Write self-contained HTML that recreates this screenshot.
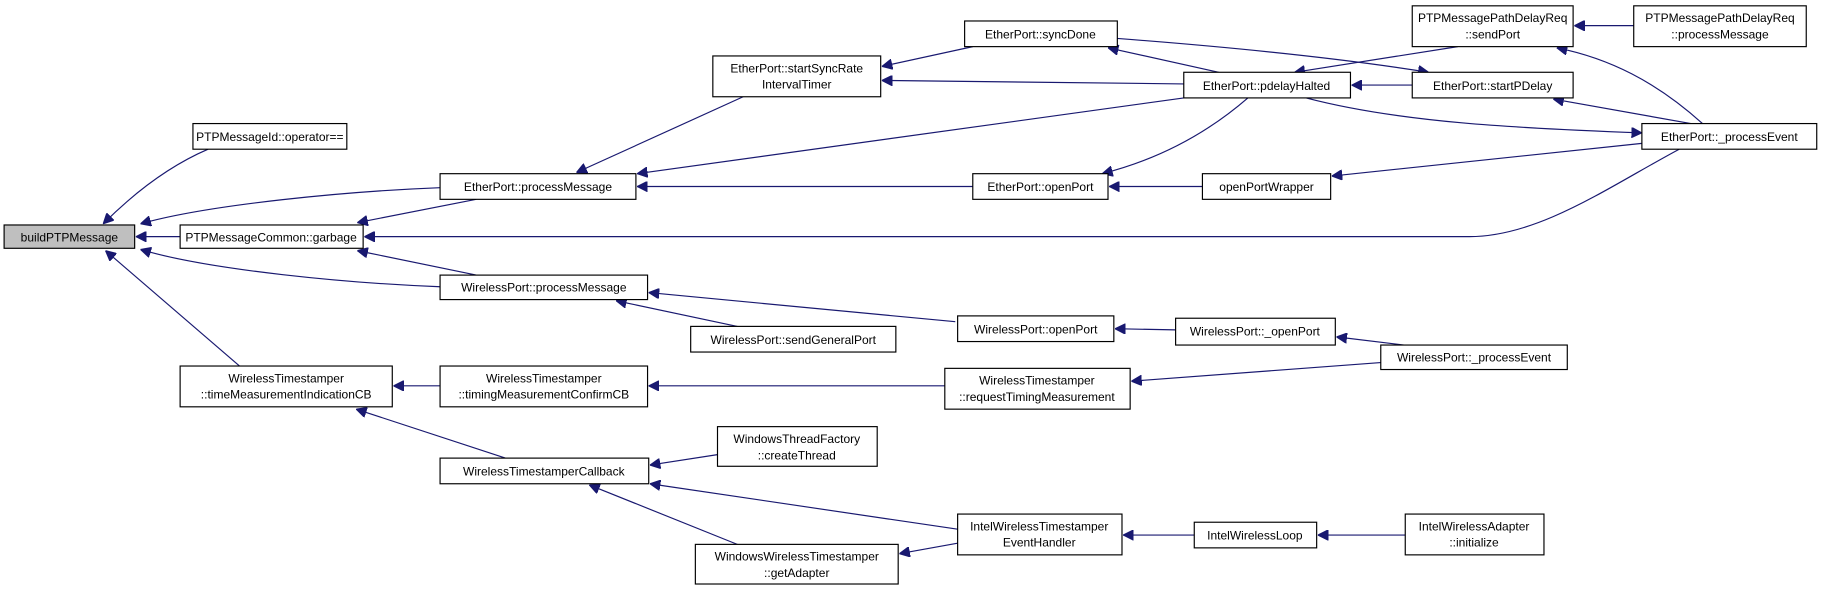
<!DOCTYPE html>
<html><head><meta charset="utf-8"><style>
html,body{margin:0;padding:0;background:#fff;}
svg{display:block;}
text{font-family:"Liberation Sans",Arial,sans-serif;font-size:10.3px;fill:#000;text-anchor:middle;}
rect{fill:#fff;stroke:#000;stroke-width:1;}
.e{fill:none;stroke:#191970;stroke-width:1;}
</style></head><body>
<svg width="1829" height="591" viewBox="0 0 1568 507" xmlns="http://www.w3.org/2000/svg">
<defs><marker id="a" viewBox="0 0 10 10" refX="10" refY="5" markerWidth="9" markerHeight="9" orient="auto" markerUnits="userSpaceOnUse"><path d="M0,0 L10,5 L0,10 z" fill="#191970" stroke="#191970"/></marker></defs>
<g class="edges">
<path class="e" marker-end="url(#a)" d="M178,128 C150,140 120,160 88,192"/>
<path class="e" marker-end="url(#a)" d="M377,161 C300,164 180,175 120,192"/>
<path class="e" marker-end="url(#a)" d="M154,203 L116,203"/>
<path class="e" marker-end="url(#a)" d="M377,246 C300,243 180,232 120,214"/>
<path class="e" marker-end="url(#a)" d="M205,314 L90,215"/>
<path class="e" marker-end="url(#a)" d="M408,171 L306,191"/>
<path class="e" marker-end="url(#a)" d="M408,236 L306,215"/>
<path class="e" marker-end="url(#a)" d="M1440,128 C1380,160 1320,203 1260,203 L312,203"/>
<path class="e" marker-end="url(#a)" d="M637,83 L494,148"/>
<path class="e" marker-end="url(#a)" d="M1015,84 L546,149"/>
<path class="e" marker-end="url(#a)" d="M834,160 L546,160"/>
<path class="e" marker-end="url(#a)" d="M819,276 L556,251"/>
<path class="e" marker-end="url(#a)" d="M632,280 L528,258"/>
<path class="e" marker-end="url(#a)" d="M377,331 L337,331"/>
<path class="e" marker-end="url(#a)" d="M433,393 L305,351"/>
<path class="e" marker-end="url(#a)" d="M810,331 L556,331"/>
<path class="e" marker-end="url(#a)" d="M834,40 L756,57"/>
<path class="e" marker-end="url(#a)" d="M1015,72 L756,69"/>
<path class="e" marker-end="url(#a)" d="M1045,62 L950,41"/>
<path class="e" marker-end="url(#a)" d="M958,33 C1050,40 1150,50 1225,62"/>
<path class="e" marker-end="url(#a)" d="M1211,73 L1159,73"/>
<path class="e" marker-end="url(#a)" d="M1250,40 L1110,62"/>
<path class="e" marker-end="url(#a)" d="M1120,84 C1200,105 1300,110 1408,114"/>
<path class="e" marker-end="url(#a)" d="M1070,84 C1040,110 1000,135 945,149"/>
<path class="e" marker-end="url(#a)" d="M1031,160 L951,160"/>
<path class="e" marker-end="url(#a)" d="M1408,123 L1142,151"/>
<path class="e" marker-end="url(#a)" d="M1460,106 C1420,70 1380,50 1335,41"/>
<path class="e" marker-end="url(#a)" d="M1401,22 L1350,22"/>
<path class="e" marker-end="url(#a)" d="M1450,106 L1332,85"/>
<path class="e" marker-end="url(#a)" d="M1008,283 L956,282"/>
<path class="e" marker-end="url(#a)" d="M1204,296 L1146,289"/>
<path class="e" marker-end="url(#a)" d="M1184,311 L970,327"/>
<path class="e" marker-end="url(#a)" d="M615,390 L557,399"/>
<path class="e" marker-end="url(#a)" d="M821,454 L557,415"/>
<path class="e" marker-end="url(#a)" d="M632,467 L505,416"/>
<path class="e" marker-end="url(#a)" d="M821,466 L771,475"/>
<path class="e" marker-end="url(#a)" d="M1024,459 L963,459"/>
<path class="e" marker-end="url(#a)" d="M1205,459 L1130,459"/>
</g>
<g>
<rect x="3" y="193" width="112" height="20" style="fill:#bfbfbf"/><text x="59" y="207">buildPTPMessage</text>
<rect x="165" y="106" width="132" height="22"/><text x="231" y="121">PTPMessageId::operator==</text>
<rect x="377" y="149" width="168" height="22"/><text x="461" y="164">EtherPort::processMessage</text>
<rect x="154" y="193" width="157" height="20"/><text x="232" y="207">PTPMessageCommon::garbage</text>
<rect x="377" y="236" width="178" height="21"/><text x="466" y="250">WirelessPort::processMessage</text>
<rect x="154" y="314" width="182" height="35"/><text x="245" y="328">WirelessTimestamper</text><text x="245" y="342">::timeMeasurementIndicationCB</text>
<rect x="377" y="314" width="178" height="35"/><text x="466" y="328">WirelessTimestamper</text><text x="466" y="342">::timingMeasurementConfirmCB</text>
<rect x="377" y="393" width="179" height="22"/><text x="466" y="408">WirelessTimestamperCallback</text>
<rect x="611" y="48" width="144" height="35"/><text x="683" y="62">EtherPort::startSyncRate</text><text x="683" y="76">IntervalTimer</text>
<rect x="827" y="18" width="131" height="22"/><text x="892" y="33">EtherPort::syncDone</text>
<rect x="1015" y="62" width="143" height="22"/><text x="1086" y="77">EtherPort::pdelayHalted</text>
<rect x="834" y="149" width="116" height="22"/><text x="892" y="164">EtherPort::openPort</text>
<rect x="1031" y="149" width="110" height="22"/><text x="1086" y="164">openPortWrapper</text>
<rect x="1211" y="5" width="138" height="35"/><text x="1280" y="19">PTPMessagePathDelayReq</text><text x="1280" y="33">::sendPort</text>
<rect x="1401" y="5" width="148" height="35"/><text x="1475" y="19">PTPMessagePathDelayReq</text><text x="1475" y="33">::processMessage</text>
<rect x="1211" y="62" width="138" height="22"/><text x="1280" y="77">EtherPort::startPDelay</text>
<rect x="1408" y="106" width="150" height="22"/><text x="1483" y="121">EtherPort::_processEvent</text>
<rect x="592" y="280" width="176" height="22"/><text x="680" y="295">WirelessPort::sendGeneralPort</text>
<rect x="821" y="271" width="134" height="22"/><text x="888" y="286">WirelessPort::openPort</text>
<rect x="1008" y="273" width="137" height="23"/><text x="1076" y="288">WirelessPort::_openPort</text>
<rect x="1184" y="296" width="160" height="21"/><text x="1264" y="310">WirelessPort::_processEvent</text>
<rect x="810" y="316" width="159" height="35"/><text x="889" y="330">WirelessTimestamper</text><text x="889" y="344">::requestTimingMeasurement</text>
<rect x="615" y="366" width="137" height="34"/><text x="683" y="380">WindowsThreadFactory</text><text x="683" y="394">::createThread</text>
<rect x="596" y="467" width="174" height="34"/><text x="683" y="481">WindowsWirelessTimestamper</text><text x="683" y="495">::getAdapter</text>
<rect x="821" y="441" width="141" height="35"/><text x="891" y="455">IntelWirelessTimestamper</text><text x="891" y="469">EventHandler</text>
<rect x="1024" y="448" width="105" height="22"/><text x="1076" y="463">IntelWirelessLoop</text>
<rect x="1205" y="441" width="119" height="35"/><text x="1264" y="455">IntelWirelessAdapter</text><text x="1264" y="469">::initialize</text>
</g>
</svg>
</body></html>
